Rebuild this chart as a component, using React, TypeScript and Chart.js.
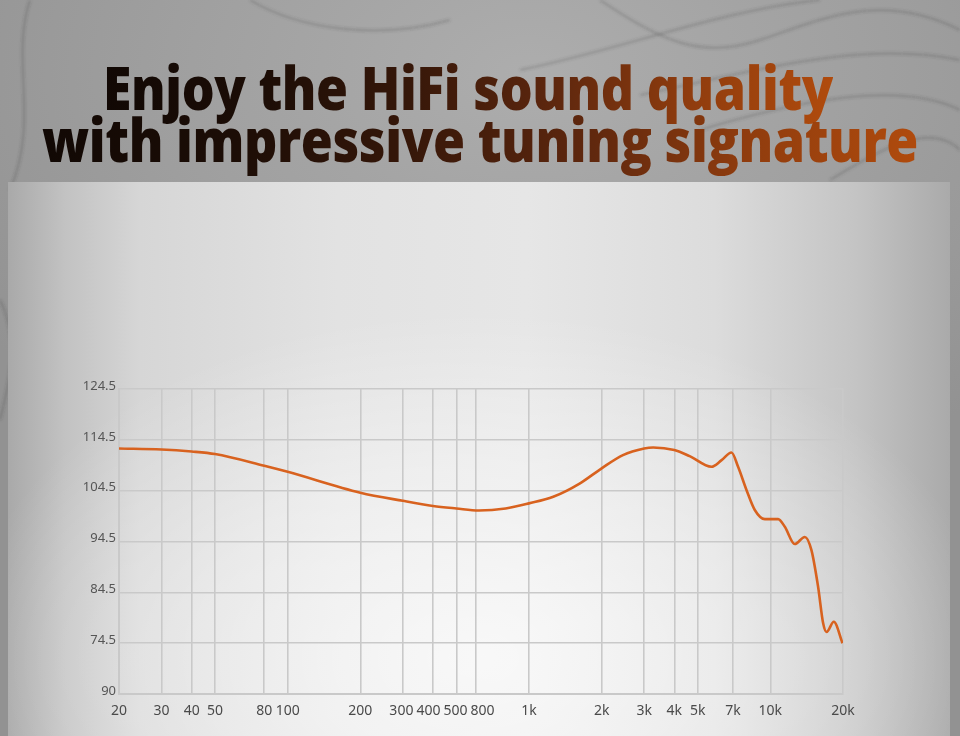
import React, { useEffect, useLayoutEffect, useRef } from "react";
import { Chart, registerables } from "chart.js";

Chart.register(...registerables);

// ---- data ----
const frequencies = [20, 30, 40, 50, 80, 100, 200, 300, 400, 500, 620, 800, 1000, 1260, 1620, 2000, 2450, 3000, 3270, 4000, 4630, 5700, 6280, 6900, 7350, 7970, 8620, 9490, 10770, 11480, 12620, 13900, 14800, 15770, 16550, 17100, 18320, 19900];
const splValues = [112.8, 112.6, 112.2, 111.7, 109.4, 108.2, 104.1, 102.5, 101.5, 101.0, 100.6, 101.0, 102.0, 103.3, 105.9, 108.9, 111.5, 112.8, 113.0, 112.5, 111.3, 109.2, 110.5, 112.0, 109.2, 104.6, 100.7, 98.9, 98.9, 97.4, 94.0, 95.4, 92.8, 85.6, 78.4, 76.7, 78.7, 74.5];

const xTickValues = [20, 30, 40, 50, 80, 100, 200, 300, 400, 500, 600, 1000, 2000, 3000, 4000, 5000, 7000, 10000, 20000];
const xTickLabels = ["20", "30", "40", "50", "80", "100", "200", "300", "400", "500", "800", "1k", "2k", "3k", "4k", "5k", "7k", "10k", "20k"];
const yTickValues = [64.5, 74.5, 84.5, 94.5, 104.5, 114.5, 124.5];
const yTickLabels = ["90", "74.5", "84.5", "94.5", "104.5", "114.5", "124.5"];

const titleLine1 = "Enjoy the HiFi sound quality";
const titleLine2 = "with impressive tuning signature";

const titleGradient =
  "linear-gradient(90deg, #110804 0%, #1c0d06 22%, #361709 42%, #5e270e 62%, #8f3c0e 80%, #b04b0d 100%)";

const xLabelFont = "14px 'Noto Sans', sans-serif";
const xLabelColor = "#4a4a4a";

// draws the x tick labels under their grid lines, nudging crowded ones apart
const xLabelPlugin = {
  id: "xLabels",
  afterDraw(chart: any) {
    const scale = chart.scales.x;
    const ctx = chart.ctx as CanvasRenderingContext2D;
    ctx.save();
    ctx.font = xLabelFont;
    const items = xTickValues.map((v, i) => ({
      text: xTickLabels[i],
      c: scale.getPixelForValue(v),
      w: ctx.measureText(xTickLabels[i]).width,
    }));
    for (let iter = 0; iter < 60; iter++) {
      for (let i = 0; i < items.length - 1; i++) {
        const a = items[i];
        const b = items[i + 1];
        const need = (a.w + b.w) / 2 + 3;
        const d = b.c - a.c;
        if (d < need) {
          const s = (need - d) / 2;
          a.c -= s;
          b.c += s;
        }
      }
    }
    ctx.fillStyle = xLabelColor;
    ctx.textAlign = "center";
    ctx.textBaseline = "alphabetic";
    items.forEach((it) => ctx.fillText(it.text, it.c, scale.top + 21));
    ctx.restore();
  },
};

function FitLine({ text, left, width, top }: { text: string; left: number; width: number; top: number }) {
  const ref = useRef<HTMLSpanElement>(null);
  useLayoutEffect(() => {
    const fit = () => {
      const el = ref.current;
      if (!el) return;
      el.style.transform = "none";
      const w = el.getBoundingClientRect().width;
      if (w > 0) el.style.transform = `scaleX(${width / w})`;
    };
    fit();
    if ((document as any).fonts && (document as any).fonts.ready) {
      (document as any).fonts.ready.then(fit);
    }
  }, [text, width]);
  return (
    <span
      ref={ref}
      style={{
        position: "absolute",
        left,
        top,
        whiteSpace: "nowrap",
        transformOrigin: "0 0",
        fontFamily: "'Open Sans', 'Noto Sans', sans-serif",
        fontWeight: 800,
        fontSize: 61,
        lineHeight: "84px",
        backgroundImage: titleGradient,
        WebkitBackgroundClip: "text",
        backgroundClip: "text",
        color: "transparent",
        WebkitTextFillColor: "transparent",
        letterSpacing: -0.5,
      }}
    >
      {text}
    </span>
  );
}

export default function App() {
  const canvasRef = useRef<HTMLCanvasElement>(null);

  useEffect(() => {
    document.body.style.margin = "0";
    const canvas = canvasRef.current;
    if (!canvas) return;
    const points = frequencies.map((f, i) => ({ x: f, y: splValues[i] }));
    const gridColor = "#c9c9c9";
    const chart = new Chart(canvas, {
      type: "line",
      data: {
        datasets: [
          {
            data: points,
            borderColor: "#d8621f",
            borderWidth: 2.6,
            pointRadius: 0,
            fill: false,
            cubicInterpolationMode: "monotone",
          },
        ],
      },
      options: {
        animation: false,
        responsive: false,
        devicePixelRatio: 1,
        layout: { padding: { left: 69, right: 117, top: 389, bottom: 12 } },
        plugins: { legend: { display: false }, tooltip: { enabled: false } },
        scales: {
          x: {
            type: "logarithmic",
            min: 20,
            max: 20000,
            afterBuildTicks: (scale: any) => {
              scale.ticks = xTickValues.map((v) => ({ value: v }));
            },
            afterFit: (scale: any) => {
              scale.height = 30;
            },
            grid: { color: gridColor, lineWidth: 1.6, drawTicks: false },
            border: { color: gridColor, width: 2 },
            ticks: {
              display: false,
              autoSkip: false,
              maxRotation: 0,
              callback: (_v: any, i: number) => xTickLabels[i],
            },
          },
          y: {
            type: "linear",
            min: 64.5,
            max: 124.5,
            afterBuildTicks: (scale: any) => {
              scale.ticks = yTickValues.map((v) => ({ value: v }));
            },
            afterFit: (scale: any) => {
              scale.width = 50;
            },
            grid: { color: gridColor, lineWidth: 1.6, drawTicks: false },
            border: { color: gridColor, width: 2 },
            ticks: {
              padding: 3,
              labelOffset: -3,
              color: "#555555",
              font: { family: "'Noto Sans', sans-serif", size: 13 },
              callback: (_v: any, i: number) => yTickLabels[i],
            },
          },
        },
      },
      plugins: [xLabelPlugin],
    } as any);
    return () => chart.destroy();
  }, []);

  return (
    <div
      style={{
        position: "absolute",
        left: 0,
        top: 0,
        width: 960,
        height: 736,
        overflow: "hidden",
        background:
          "radial-gradient(ellipse 70% 60% at 55% 10%, #adadad 0%, #a0a0a0 50%, #929292 100%)",
      }}
    >
      <svg width={960} height={736} style={{ position: "absolute", left: 0, top: 0 }}>
        <defs>
          <filter id="blur1">
            <feGaussianBlur stdDeviation="1.5" />
          </filter>
        </defs>
        <g fill="none" stroke="rgba(60,60,60,0.28)" strokeWidth={2} filter="url(#blur1)">
          <path d="M 600 0 C 660 40, 700 60, 760 40 S 880 -10, 960 30" />
          <path d="M 520 70 C 620 50, 720 10, 820 0" />
          <path d="M 640 95 C 760 70, 860 40, 960 60" />
          <path d="M 700 130 C 800 100, 900 80, 960 110" />
          <path d="M 830 180 C 880 150, 930 120, 960 150" />
          <path d="M 250 0 C 300 30, 380 40, 450 20" />
          <path d="M 30 0 C 10 60, 40 120, 10 190" />
          <path d="M 0 300 C 20 340, 10 380, 0 420" />
        </g>
      </svg>
      <FitLine text={titleLine1} left={103} width={730} top={45} />
      <FitLine text={titleLine2} left={42} width={876} top={97} />
      <div
        style={{
          position: "absolute",
          left: 8,
          top: 182,
          width: 942,
          height: 560,
          background:
            "radial-gradient(ellipse 55% 62% at 50% 85%, rgba(255,255,255,0.75) 0%, rgba(255,255,255,0.4) 55%, rgba(255,255,255,0) 100%), linear-gradient(90deg, #a9a9a9 0%, #c2c2c2 6%, #d6d6d6 14%, #e2e2e2 35%, #e6e6e6 55%, #dcdcdc 75%, #c4c4c4 90%, #aaaaaa 100%)",
        }}
      />
      <canvas
        ref={canvasRef}
        width={960}
        height={736}
        style={{ position: "absolute", left: 0, top: 0, width: 960, height: 736 }}
      />
    </div>
  );
}
